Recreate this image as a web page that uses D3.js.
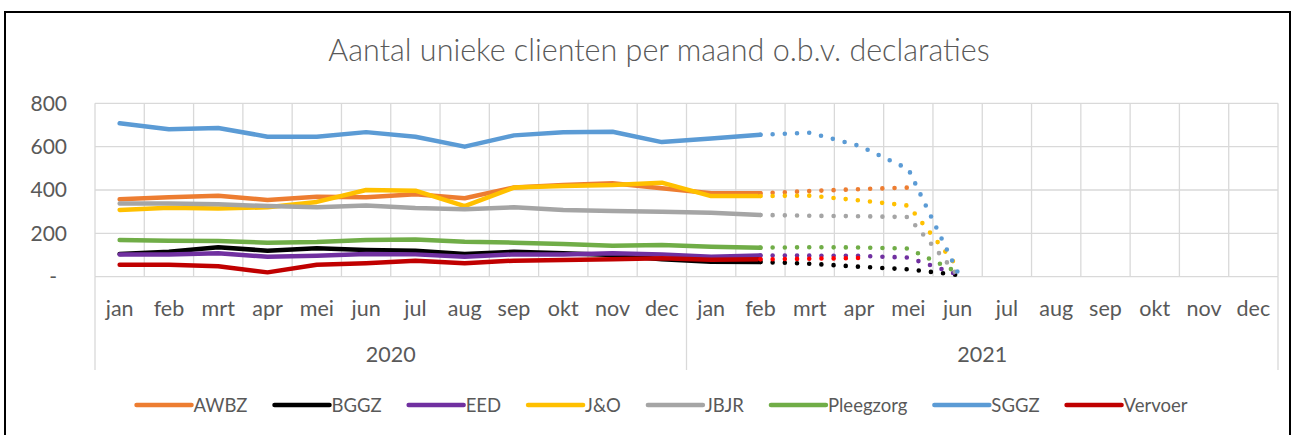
<!DOCTYPE html>
<html><head><meta charset="utf-8">
<script src="https://cdn.jsdelivr.net/npm/d3@7/dist/d3.min.js"></script>
<style>body{margin:0;background:#fff}</style>
</head><body><svg id="c" width="1294" height="435"></svg>
<script>
// ---------- data ----------
const title = "Aantal unieke clienten per maand o.b.v. declaraties";
const months = ["jan","feb","mrt","apr","mei","jun","jul","aug","sep","okt","nov","dec"];
const years = ["2020","2021"];
const yTicks = [0, 200, 400, 600, 800];
const seriesNames = ["AWBZ","BGGZ","EED","J&O","JBJR","Pleegzorg","SGGZ","Vervoer"];
const seriesColors = ["#ED7D31","#000000","#7030A0","#FFC000","#A5A5A5","#70AD47","#5B9BD5","#C00000"];
const forecastColors = ["#ED7D31","#000000","#7030A0","#FFC000","#A5A5A5","#70AD47","#5B9BD5","#FF0000"];

// realised: jan 2020 .. feb 2021
const AWBZ      = [357, 366, 374, 354, 369, 367, 380, 362, 412, 423, 431, 408, 385, 385];
const BGGZ      = [105, 115, 136, 120, 131, 123, 120, 105, 115, 108, 100, 80, 69, 68];
const EED       = [103, 103, 108, 92, 97, 105, 103, 92, 103, 103, 108, 103, 92, 98];
const JO        = [308, 318, 315, 320, 345, 400, 397, 326, 411, 418, 423, 434, 372, 372];
const JBJR      = [338, 338, 334, 326, 320, 329, 317, 311, 320, 308, 303, 300, 295, 285];
const Pleegzorg = [169, 166, 165, 157, 160, 169, 172, 161, 157, 151, 143, 146, 138, 134];
const SGGZ      = [708, 680, 686, 646, 646, 667, 646, 600, 652, 666, 669, 621, 638, 655];
const Vervoer   = [55, 55, 48, 20, 55, 62, 74, 62, 74, 77, 80, 85, 78, 80];

// forecast (dotted): feb 2021 .. jun 2021
const AWBZ_f      = [385, 395, 404, 411, null];
const BGGZ_f      = [68, 60, 46, 34, 8];
const EED_f       = [98, 97, 96, 88, 10];
const JO_f        = [372, 374, 352, 328, 45];
const JBJR_f      = [285, 281, 279, 275, 8];
const Pleegzorg_f = [134, 136, 135, 130, 20];
const SGGZ_f      = [655, 664, 604, 497, 22];
const Vervoer_f   = [80, 83, 86, null, null];

const actual = [AWBZ, BGGZ, EED, JO, JBJR, Pleegzorg, SGGZ, Vervoer];
const forecast = [AWBZ_f, BGGZ_f, EED_f, JO_f, JBJR_f, Pleegzorg_f, SGGZ_f, Vervoer_f];
const forecastStart = 13; // index of feb 2021

// ---------- layout ----------
const FONT = "Lato, 'Open Sans', sans-serif";
const TXT = "#595959";
const GRID = "#D9D9D9";
const plot = {left: 95, right: 1278, top: 103.3, bottom: 276.7};

const svg = d3.select("#c");
svg.append("rect").attr("width",1294).attr("height",435).attr("fill","#fff");
svg.append("rect").attr("x",5).attr("y",12).attr("width",1285).attr("height",520)
  .attr("fill","none").attr("stroke","#000").attr("stroke-width",2);

const cats = [];
years.forEach(y => months.forEach(m => cats.push(y + "|" + m)));

const x = d3.scaleBand().domain(cats).range([plot.left, plot.right]).padding(0);
const xc = i => x(cats[i]) + x.bandwidth() / 2;
const xYear = d3.scaleBand().domain(years).range([plot.left, plot.right]).padding(0);
const y = d3.scaleLinear().domain([0, 800]).range([plot.bottom, plot.top]);

// title
svg.append("text").attr("x", 659).attr("y", 61).attr("text-anchor","middle")
  .attr("font-family", FONT).attr("font-weight", 300).attr("font-size", 30.5)
  .attr("fill", TXT).text(title);

// horizontal gridlines
svg.append("g").selectAll("line").data(yTicks).join("line")
  .attr("x1", plot.left).attr("x2", plot.right)
  .attr("y1", d => y(d)).attr("y2", d => y(d))
  .attr("stroke", GRID).attr("stroke-width", 1.3);

// vertical gridlines at category boundaries
svg.append("g").selectAll("line").data(cats.concat(["end"])).join("line")
  .attr("x1", d => d === "end" ? plot.right : x(d)).attr("x2", d => d === "end" ? plot.right : x(d))
  .attr("y1", plot.top).attr("y2", plot.bottom)
  .attr("stroke", GRID).attr("stroke-width", 1.3);

// y axis labels
const yAxis = svg.append("g").attr("transform", `translate(${plot.left},0)`)
  .call(d3.axisLeft(y).tickValues(yTicks).tickSize(0).tickPadding(28)
    .tickFormat(d => d === 0 ? "-" : d3.format("d")(d)));
yAxis.select(".domain").remove();
yAxis.selectAll("text").attr("font-family", FONT).attr("font-size", 21).attr("fill", TXT)
  .attr("dx", d => d === 0 ? -10 : 0);

// x axis: months
const xAxis = svg.append("g").attr("transform", `translate(0,${plot.bottom})`)
  .call(d3.axisBottom(x).tickSize(0).tickPadding(24).tickFormat(d => d.split("|")[1]));
xAxis.select(".domain").remove();
xAxis.selectAll("text").attr("font-family", FONT).attr("font-size", 21.5).attr("fill", TXT);

// x axis: years
const yrAxis = svg.append("g").attr("transform", `translate(0,${plot.bottom})`)
  .call(d3.axisBottom(xYear).tickSize(0).tickPadding(70));
yrAxis.select(".domain").remove();
yrAxis.selectAll("text").attr("font-family", FONT).attr("font-size", 21.5).attr("fill", TXT);

// year separators
const seps = [];
years.forEach(yv => { seps.push(xYear(yv)); });
seps.push(plot.right);
svg.append("g").selectAll("line").data(seps).join("line")
  .attr("x1", d => d).attr("x2", d => d).attr("y1", plot.bottom).attr("y2", 370)
  .attr("stroke", GRID).attr("stroke-width", 1.3);

// lines
const line = d3.line().defined(d => d.v != null).x(d => xc(d.i)).y(d => y(d.v));
const gLines = svg.append("g");
actual.forEach((vals, s) => {
  gLines.append("path").datum(vals.map((v, i) => ({i, v})))
    .attr("d", line).attr("fill","none").attr("stroke", seriesColors[s])
    .attr("stroke-width", 4.5).attr("stroke-linejoin","round").attr("stroke-linecap","round");
});
forecast.forEach((vals, s) => {
  gLines.append("path").datum(vals.map((v, k) => ({i: forecastStart + k, v})))
    .attr("d", line).attr("fill","none").attr("stroke", forecastColors[s])
    .attr("stroke-width", 4.6).attr("stroke-linecap","round")
    .attr("stroke-dasharray", "0 12.2");
});

// legend
const leg = svg.append("g");
let cx = 0;
seriesNames.forEach((n, s) => {
  const g = leg.append("g");
  g.append("line").attr("x1", 0).attr("x2", 55).attr("y1", 0).attr("y2", 0)
    .attr("stroke", seriesColors[s]).attr("stroke-width", 4.5).attr("stroke-linecap","round");
  const t = g.append("text").attr("x", 57).attr("y", 6.5).attr("font-family", FONT)
    .attr("font-size", 18.5).attr("fill", TXT).text(n);
  const w = 57 + t.node().getComputedTextLength();
  g.attr("transform", `translate(${cx},405)`);
  cx += w + 27;
});
const total = cx - 27;
leg.attr("transform", `translate(${662 - total / 2},0)`);
</script></body></html>
